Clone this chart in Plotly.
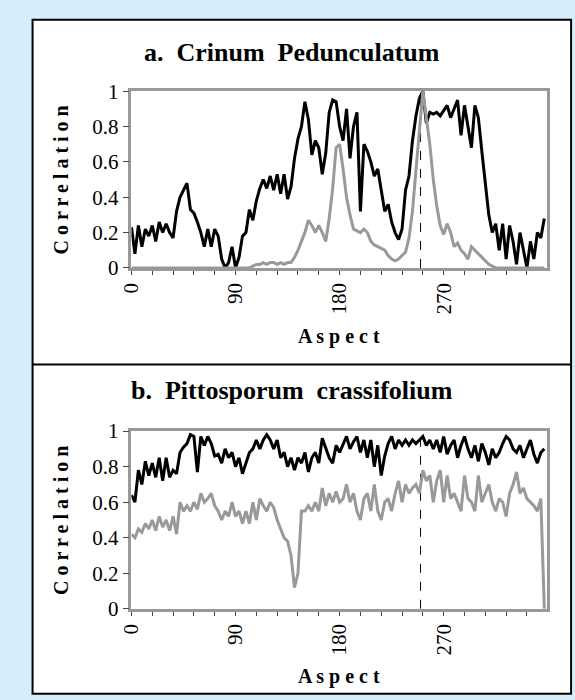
import plotly.graph_objects as go

# ---------------- data ----------------
ASPECT = list(range(0, 358, 3))  # aspect categories (degrees)
MARK_ASPECT = 250                 # dashed reference aspect

CRINUM_BLACK = [
    0.23, 0.08, 0.24, 0.12, 0.22, 0.18, 0.24, 0.15, 0.26, 0.20,
    0.25, 0.20, 0.17, 0.32, 0.40, 0.44, 0.48, 0.33, 0.31, 0.26,
    0.20, 0.12, 0.22, 0.12, 0.22, 0.18, 0.05, 0.00, 0.03, 0.12,
    0.00, 0.06, 0.18, 0.20, 0.33, 0.27, 0.38, 0.45, 0.50, 0.45,
    0.52, 0.44, 0.53, 0.42, 0.53, 0.39, 0.46, 0.62, 0.73, 0.80,
    0.94, 0.84, 0.64, 0.72, 0.68, 0.53, 0.65, 0.88, 0.95, 0.94,
    0.80, 0.72, 0.90, 0.62, 0.80, 0.88, 0.32, 0.70, 0.66, 0.60,
    0.52, 0.56, 0.44, 0.32, 0.36, 0.26, 0.20, 0.16, 0.22, 0.44,
    0.52, 0.72, 0.86, 0.96, 1.00, 0.82, 0.88, 0.87, 0.88, 0.86,
    0.89, 0.92, 0.85, 0.90, 0.95, 0.75, 0.92, 0.80, 0.68, 0.92,
    0.85, 0.66, 0.48, 0.30, 0.20, 0.25, 0.10, 0.25, 0.05, 0.24,
    0.15, 0.02, 0.20, 0.10, 0.00, 0.15, 0.05, 0.20, 0.17, 0.28,
]
CRINUM_GRAY = [
    0.00, 0.00, 0.00, 0.00, 0.00, 0.00, 0.00, 0.00, 0.00, 0.00,
    0.00, 0.00, 0.00, 0.00, 0.00, 0.00, 0.00, 0.00, 0.00, 0.00,
    0.00, 0.00, 0.00, 0.00, 0.00, 0.00, 0.00, 0.00, 0.00, 0.00,
    0.00, 0.00, 0.00, 0.00, 0.00, 0.01, 0.02, 0.02, 0.03, 0.02,
    0.03, 0.03, 0.02, 0.03, 0.02, 0.03, 0.03, 0.06, 0.10, 0.15,
    0.20, 0.27, 0.24, 0.20, 0.24, 0.20, 0.15, 0.28, 0.45, 0.68,
    0.70, 0.56, 0.40, 0.30, 0.22, 0.21, 0.20, 0.22, 0.20, 0.15,
    0.13, 0.12, 0.11, 0.10, 0.07, 0.05, 0.04, 0.05, 0.07, 0.09,
    0.17, 0.32, 0.55, 0.80, 1.00, 0.85, 0.70, 0.50, 0.35, 0.24,
    0.19, 0.25, 0.20, 0.12, 0.14, 0.10, 0.08, 0.05, 0.12, 0.10,
    0.08, 0.06, 0.04, 0.02, 0.01, 0.00, 0.00, 0.00, 0.00, 0.00,
    0.00, 0.00, 0.00, 0.00, 0.00, 0.00, 0.00, 0.00, 0.00, 0.00,
]
PITTO_BLACK = [
    0.64, 0.60, 0.78, 0.70, 0.83, 0.75, 0.82, 0.74, 0.85, 0.72,
    0.85, 0.74, 0.78, 0.76, 0.88, 0.91, 0.93, 0.98, 0.97, 0.77,
    0.97, 0.92, 0.97, 0.93, 0.86, 0.87, 0.82, 0.90, 0.85, 0.88,
    0.80, 0.85, 0.76, 0.82, 0.88, 0.90, 0.95, 0.90, 0.95, 0.98,
    0.95, 0.90, 0.95, 0.85, 0.88, 0.80, 0.85, 0.78, 0.85, 0.82,
    0.88, 0.77, 0.85, 0.88, 0.82, 0.96, 0.90, 0.85, 0.82, 0.92,
    0.88, 0.93, 0.97, 0.90, 0.94, 0.97, 0.88, 0.95, 0.85, 0.95,
    0.80, 0.92, 0.75, 0.86, 0.93, 0.97, 0.90, 0.95, 0.92, 0.95,
    0.92, 0.95, 0.93, 0.95, 0.97, 0.92, 0.95, 0.90, 0.95, 0.88,
    0.97, 0.87, 0.92, 0.95, 0.85, 0.92, 0.97, 0.90, 0.85, 0.92,
    0.83, 0.93, 0.88, 0.81, 0.90, 0.85, 0.88, 0.93, 0.97, 0.95,
    0.90, 0.88, 0.92, 0.85, 0.90, 0.95, 0.87, 0.82, 0.88, 0.90,
]
PITTO_GRAY = [
    0.42, 0.40, 0.45, 0.43, 0.48, 0.45, 0.50, 0.44, 0.52, 0.46,
    0.50, 0.44, 0.52, 0.42, 0.60, 0.55, 0.58, 0.55, 0.60, 0.56,
    0.65, 0.60, 0.62, 0.65, 0.58, 0.55, 0.50, 0.55, 0.52, 0.60,
    0.52, 0.55, 0.48, 0.55, 0.48, 0.60, 0.50, 0.62, 0.58, 0.55,
    0.60, 0.57, 0.50, 0.45, 0.40, 0.38, 0.30, 0.12, 0.20, 0.55,
    0.55, 0.58, 0.55, 0.60, 0.55, 0.68, 0.58, 0.65, 0.60, 0.66,
    0.60, 0.62, 0.70, 0.60, 0.65, 0.55, 0.50, 0.62, 0.65, 0.55,
    0.70, 0.55, 0.50, 0.60, 0.62, 0.55, 0.65, 0.72, 0.60, 0.70,
    0.65, 0.68, 0.70, 0.65, 0.78, 0.72, 0.75, 0.60, 0.72, 0.78,
    0.60, 0.75, 0.62, 0.65, 0.60, 0.55, 0.75, 0.62, 0.60, 0.55,
    0.75, 0.60, 0.65, 0.70, 0.60, 0.55, 0.62, 0.60, 0.52, 0.65,
    0.70, 0.77, 0.65, 0.68, 0.62, 0.60, 0.58, 0.55, 0.62, 0.00,
]
X_TICKS = list(range(0, 360, 18))
X_LABELS = {0: "0", 90: "90", 180: "180", 270: "270"}
Y_TICKS = [0, 0.2, 0.4, 0.6, 0.8, 1]
Y_LABELS = ["0", "0.2", "0.4", "0.6", "0.8", "1"]
TITLES = ["a.\u00a0 Crinum\u00a0 Pedunculatum", "b.\u00a0 Pittosporum\u00a0 crassifolium"]

# ---------------- layout helpers ----------------
W, H = 575, 700
def fx(p):
    return p / W
def fy(p):
    return 1 - p / H

SERIF = "Liberation Serif, Times New Roman, serif"
BLACK_C = "#000000"
GRAY_C = "#999999"
AXIS_C = "#999999"

# pixel geometry of each panel: (plot top, plot bottom, title y, aspect label y)
PANELS = [(82, 265, 42, 336), (434, 618, 392, 688)]
PLOT_L, PLOT_R = 122, 546

fig = go.Figure()
series = [(CRINUM_BLACK, CRINUM_GRAY), (PITTO_BLACK, PITTO_GRAY)]
for i, (blk, gry) in enumerate(series):
    xa = "x" if i == 0 else "x2"
    ya = "y" if i == 0 else "y2"
    fig.add_trace(go.Scatter(x=ASPECT, y=blk, mode="lines", xaxis=xa, yaxis=ya,
                             line=dict(color=BLACK_C, width=3), showlegend=False,
                             hoverinfo="skip"))
    fig.add_trace(go.Scatter(x=ASPECT, y=gry, mode="lines", xaxis=xa, yaxis=ya,
                             line=dict(color=GRAY_C, width=3), showlegend=False,
                             hoverinfo="skip"))

axis_common = dict(showline=True, linecolor=AXIS_C, linewidth=2.5, mirror=True,
                   showgrid=False, zeroline=False, ticks="outside",
                   tickcolor="#444444", tickfont=dict(family=SERIF, size=21, color="black"))

layout_axes = {}
for i, (top, bot, ty, ay) in enumerate(PANELS):
    sfx = "" if i == 0 else "2"
    layout_axes["xaxis" + sfx] = dict(
        axis_common, domain=[fx(PLOT_L), fx(PLOT_R)], range=[0, 359],
        anchor="y" + sfx, tickvals=X_TICKS,
        ticktext=[X_LABELS.get(v, "") for v in X_TICKS],
        tickangle=-90, ticklen=4)
    layout_axes["yaxis" + sfx] = dict(
        axis_common, domain=[fy(bot), fy(top)], range=[0, 1],
        anchor="x" + sfx, tickvals=Y_TICKS, ticktext=Y_LABELS, ticklen=6)

shapes = [
    dict(type="rect", xref="paper", yref="paper", x0=fx(21), x1=fx(571),
         y0=fy(706), y1=fy(8), line=dict(color="black", width=2),
         fillcolor="white", layer="below"),
    dict(type="line", xref="paper", yref="paper", x0=fx(21), x1=fx(571),
         y0=fy(365), y1=fy(365), line=dict(color="black", width=2)),
]
for i in range(2):
    sfx = "" if i == 0 else "2"
    shapes.append(dict(type="line", xref="x" + sfx, yref="y" + sfx,
                       x0=MARK_ASPECT, x1=MARK_ASPECT, y0=0, y1=1, layer="below",
                       line=dict(color="black", width=1, dash="dash")))

annotations = []
for i, (top, bot, ty, ay) in enumerate(PANELS):
    annotations.append(dict(text="<b>" + TITLES[i] + "</b>", x=fx(286), y=fy(ty),
                            xref="paper", yref="paper", showarrow=False,
                            font=dict(family=SERIF, size=26, color="black"),
                            xanchor="center", yanchor="middle"))
    annotations.append(dict(text="<b>C o r r e l a t i o n</b>", x=fx(50),
                            y=fy((top + bot) / 2), xref="paper", yref="paper",
                            showarrow=False, textangle=-90,
                            font=dict(family=SERIF, size=20, color="black"),
                            xanchor="center", yanchor="middle"))
    annotations.append(dict(text="<b>A s p e c t</b>", x=fx((PLOT_L + PLOT_R) / 2),
                            y=fy(ay), xref="paper", yref="paper", showarrow=False,
                            font=dict(family=SERIF, size=20, color="black"),
                            xanchor="center", yanchor="middle"))

fig.update_layout(
    width=W, height=H, margin=dict(l=0, r=0, t=0, b=0),
    paper_bgcolor="#d5effd", plot_bgcolor="rgba(0,0,0,0)",
    shapes=shapes, annotations=annotations, **layout_axes,
)
fig.write_html("out.html")
